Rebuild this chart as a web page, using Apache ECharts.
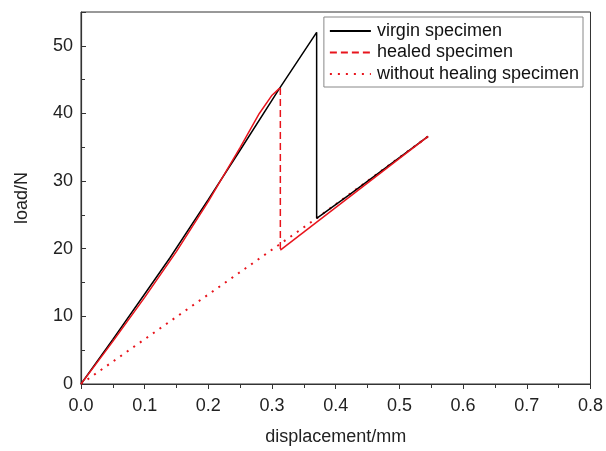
<!DOCTYPE html>
<html>
<head>
<meta charset="utf-8">
<script src="https://cdn.jsdelivr.net/npm/echarts@6/dist/echarts.min.js"></script>
<style>html,body{margin:0;padding:0;background:#fff}#c{width:606px;height:451px}</style>
</head>
<body>
<div id="c"></div>
<script>
// displacement (mm), load (N)
var virginX = [0, 0.05, 0.10, 0.14, 0.20, 0.25, 0.312, 0.370, 0.370, 0.42, 0.545];
var virginY = [0, 6.6, 13.3, 18.7, 27.3, 34.6, 43.75, 52.0, 24.5, 27.9, 36.6];

var healedRiseX = [0, 0.05, 0.10, 0.15, 0.20, 0.25, 0.28, 0.30, 0.312];
var healedRiseY = [0, 6.3, 12.8, 19.6, 27.0, 35.0, 40.0, 42.7, 43.75];
var healedDropX = [0.313, 0.313];
var healedDropY = [43.75, 19.8];
var healedTailX = [0.313, 0.545];
var healedTailY = [19.8, 36.6];

var noHealX = [0, 0.370, 0.545];
var noHealY = [0, 24.5, 36.6];

var seriesNames = ['virgin specimen', 'healed specimen', 'without healing specimen'];
var xTicks = [0, 0.1, 0.2, 0.3, 0.4, 0.5, 0.6, 0.7, 0.8];
var yTicks = [0, 10, 20, 30, 40, 50];

function pairs(xs, ys) { return xs.map(function (x, i) { return [x, ys[i]]; }); }

var RED = '#e8141c';
var FONT = 'Liberation Sans';

var chart = echarts.init(document.getElementById('c'), null, {renderer: 'canvas'});
chart.setOption({
  animation: false,
  backgroundColor: '#fff',
  textStyle: {fontFamily: FONT},
  grid: {left: 81, right: 15, top: 12, bottom: 63, show: true, borderColor: '#333', borderWidth: 1},
  legend: {
    data: seriesNames,
    orient: 'vertical',
    right: 23, top: 17,
    backgroundColor: '#fff',
    borderColor: '#888', borderWidth: 1,
    padding: [5, 4, 4, 5],
    itemWidth: 41, itemHeight: 14, itemGap: 3.5,
    itemStyle: {opacity: 0},
    textStyle: {fontFamily: FONT, fontSize: 18, color: '#111', padding: [0, 0, 0, 1]}
  },
  xAxis: {
    type: 'value', min: 0, max: 0.8, interval: 0.1,
    name: 'displacement/mm', nameLocation: 'middle', nameGap: 44,
    nameTextStyle: {fontFamily: FONT, fontSize: 18, color: '#222'},
    axisLine: {show: true, lineStyle: {color: '#333', width: 1.2}},
    axisTick: {show: true, inside: false, length: 5, lineStyle: {color: '#333'}},
    minorTick: {show: true, splitNumber: 2, length: 4, lineStyle: {color: '#333'}},
    splitLine: {show: false},
    axisLabel: {fontFamily: FONT, fontSize: 18, color: '#222', margin: 13,
      formatter: function (v) { return v.toFixed(1); }}
  },
  yAxis: {
    type: 'value', min: 0, max: 55, interval: 10,
    name: 'load/N', nameLocation: 'middle', nameGap: 50, nameRotate: 90,
    nameTextStyle: {fontFamily: FONT, fontSize: 18, color: '#222'},
    axisLine: {show: true, lineStyle: {color: '#333', width: 1.2}},
    axisTick: {show: true, inside: true, length: 5, lineStyle: {color: '#333'}},
    minorTick: {show: true, splitNumber: 2, length: 4, lineStyle: {color: '#333'}},
    splitLine: {show: false},
    axisLabel: {fontFamily: FONT, fontSize: 18, color: '#222', margin: 8, showMaxLabel: false,
      formatter: function (v) { return yTicks.indexOf(v) >= 0 ? String(v) : ''; }}
  },
  series: [
    {name: seriesNames[2], type: 'line', symbol: 'none', data: pairs(noHealX, noHealY),
     lineStyle: {color: RED, width: 2, type: [2, 6]}, itemStyle: {color: RED}, z: 2},
    {name: seriesNames[0], type: 'line', symbol: 'none', data: pairs(virginX, virginY),
     lineStyle: {color: '#000', width: 1.5}, itemStyle: {color: '#000'}, z: 3},
    {name: seriesNames[1], type: 'line', symbol: 'none', data: pairs(healedDropX, healedDropY),
     lineStyle: {color: RED, width: 1.5, type: [7, 4]}, itemStyle: {color: RED}, z: 4},
    {name: 'healedRise', type: 'line', symbol: 'none', data: pairs(healedRiseX, healedRiseY),
     lineStyle: {color: RED, width: 1.5}, itemStyle: {color: RED}, z: 4},
    {name: 'healedTail', type: 'line', symbol: 'none', data: pairs(healedTailX, healedTailY),
     lineStyle: {color: RED, width: 1.5}, itemStyle: {color: RED}, z: 4}
  ]
});
</script>
</body>
</html>
